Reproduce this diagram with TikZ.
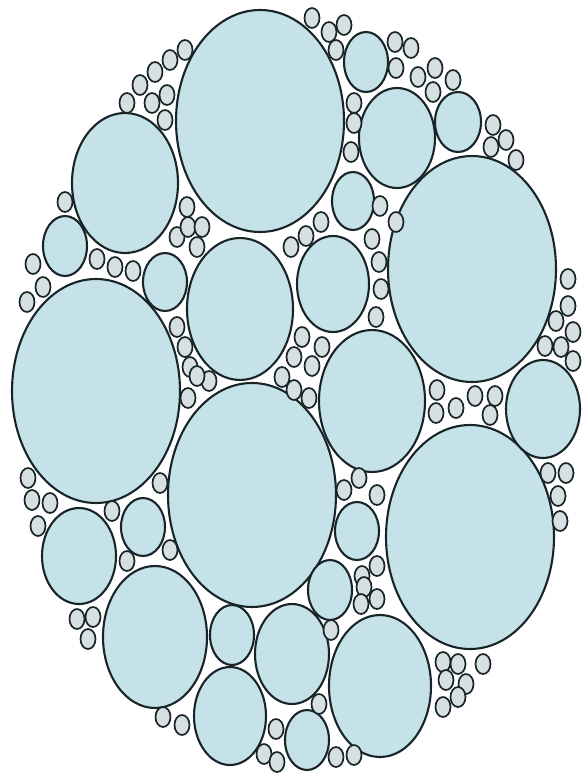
\documentclass[tikz,border=0pt]{standalone}
\definecolor{bigfill}{RGB}{196,226,231}
\definecolor{tinyfill}{RGB}{214,224,226}
\definecolor{edge}{RGB}{24,36,40}
\tikzset{
  bigcirc/.style={draw=edge,fill=bigfill,line width=2.1pt},
  tinycirc/.style={draw=edge,fill=tinyfill,line width=1.7pt}
}
\newcommand\bcirc[4]{\path[bigcirc] (#1,#2) ellipse [x radius=#3pt, y radius=#4pt];}
\newcommand\tcirc[2]{\path[tinycirc] (#1,#2) ellipse [x radius=7.5pt, y radius=10pt];}
\begin{document}
\begin{tikzpicture}[x=1pt,y=-1pt]
\useasboundingbox (0,0) rectangle (582,776);
% large and medium circles
\bcirc{260}{121}{84}{111}
\bcirc{125}{183}{53}{70}
\bcirc{472}{269}{84}{113}
\bcirc{96}{391}{84}{112}
\bcirc{252}{495}{84}{112}
\bcirc{470}{537}{84}{112}
\bcirc{240}{309}{53}{71}
\bcirc{372}{401}{53}{71}
\bcirc{397}{138}{38}{50}
\bcirc{458}{122}{23}{30}
\bcirc{366}{62}{22}{30}
\bcirc{333}{284}{36}{48}
\bcirc{353}{201}{21}{29}
\bcirc{65}{246}{22}{30}
\bcirc{165}{282}{22}{29}
\bcirc{543}{409}{37}{49}
\bcirc{79}{556}{37}{48}
\bcirc{143}{527}{22}{29}
\bcirc{155}{637}{52}{71}
\bcirc{380}{686}{51}{71}
\bcirc{232}{635}{22}{30}
\bcirc{292}{654}{37}{50}
\bcirc{230}{716}{36}{49}
\bcirc{307}{740}{22}{30}
\bcirc{330}{590}{22}{30}
\bcirc{357}{531}{22}{29}
% tiny circles
\foreach \x/\y in {127/103,140/85,155/72,170/60,185/50,152/103,167/95,165/120,
 312/18,329/32,344/25,336/50,354/103,354/123,351/152,
 395/42,411/48,396/68,418/77,435/68,433/92,453/80,493/125,506/140,491/147,516/160,
 65/202,33/264,43/287,27/302,97/259,115/267,133/271,177/237,187/207,188/227,177/327,185/347,190/367,
 202/227,197/247,291/247,306/236,321/222,380/206,372/239,379/262,381/289,376/317,302/337,322/347,294/357,312/366,282/377,209/381,197/376,
 396/222,568/279,568/306,556/321,573/332,545/346,561/347,573/361,437/390,
 28/478,32/500,50/503,38/526,112/511,160/483,170/550,127/561,188/398,
 309/398,294/390,344/490,359/478,377/495,377/566,362/576,
 436/413,456/408,475/396,495/396,490/415,548/473,566/473,558/496,560/521,
 77/619,93/617,88/639,163/717,182/725,
 364/587,361/604,377/599,331/630,319/704,276/729,264/754,277/762,336/757,354/755,
 443/662,458/664,483/664,446/680,466/684,458/697,443/707}
 {\tcirc{\x}{\y}}
\end{tikzpicture}
\end{document}
